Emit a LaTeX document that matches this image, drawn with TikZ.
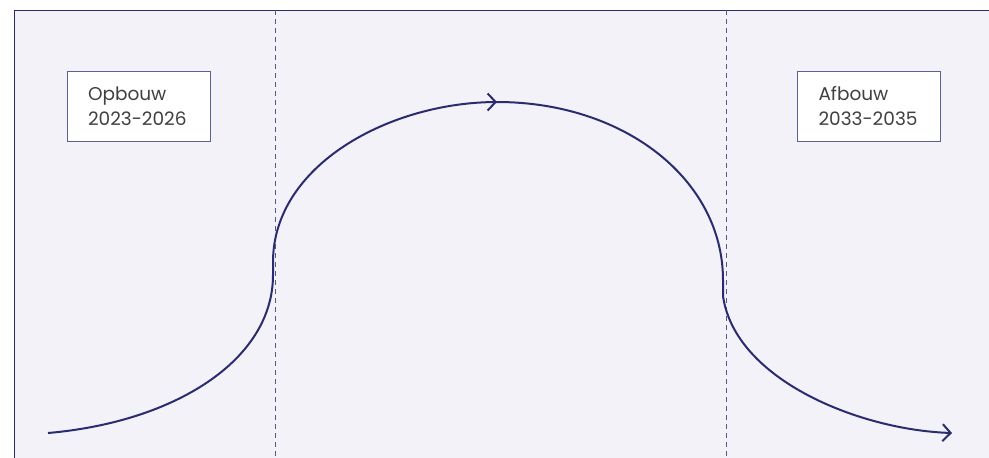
\documentclass[tikz,border=0pt]{standalone}
\usepackage{fontspec}
\setmainfont{Poppins}
\usetikzlibrary{arrows.meta}
\definecolor{navy}{HTML}{2B2C70}
\definecolor{lavender}{HTML}{F2F2F8}
\definecolor{boxline}{HTML}{5C5F9C}
\tikzset{
  phase/.style={draw=boxline,line width=1pt,fill=white,minimum width=143pt,minimum height=70pt,
    text width=101pt,align=left,inner sep=0pt,font=\fontsize{18.5}{25}\selectfont,text=black!75},
  curve/.style={navy,line width=2pt},
  divider/.style={navy!80,line width=0.8pt,dash pattern=on 5pt off 4pt}
}
\begin{document}
\begin{tikzpicture}[x=1pt,y=-1pt,>={Straight Barb[length=8pt,width=17pt]}]
			\useasboundingbox (0,0) rectangle (989,458);
			\fill[lavender] (14,10) rectangle (989,458);
			\draw[navy,line width=1pt] (14,458)--(14,10)--(989,10);
			% phase boundaries
			\draw[divider] (275.5,10)--(275.5,458);
			\draw[divider] (726.5,10)--(726.5,458);
			% labels
			\node[phase] (opbouw) at (138.5,106) {Opbouw\\2023-2026};
			\node[phase] (afbouw) at (869,106) {Afbouw\\2033-2035};
			% curve
			\coordinate (S) at (48,433);
			\coordinate (L1) at (273,275);
			\coordinate (L2) at (273,262);
			\coordinate (T) at (497,102);
			\coordinate (R1) at (723,280);
			\coordinate (R2) at (723,296);
			\coordinate (E) at (952,433);
			\draw[curve,->] (S) .. controls (175,422) and (273,360) .. (L1)
				-- (L2) .. controls (273,165) and (390,102) .. (T)
				.. controls (625,102) and (723,180) .. (R1)
				-- (R2) .. controls (735,380) and (860,430) .. (E);
			\draw[curve,->] (T) ++(-2,0) -- (T);
		\end{tikzpicture}
\end{document}
